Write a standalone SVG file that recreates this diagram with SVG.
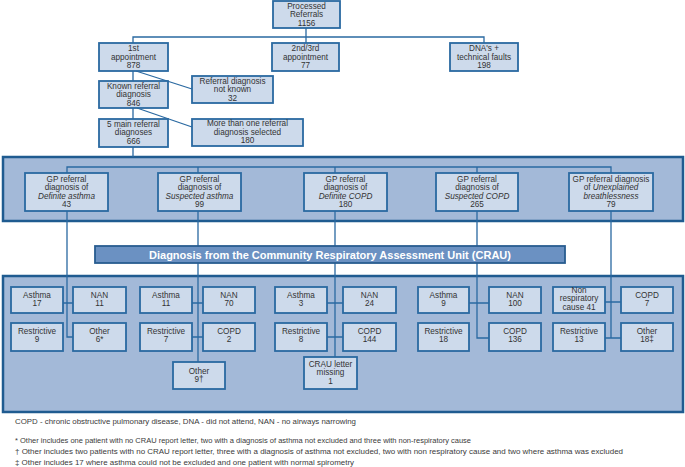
<svg xmlns="http://www.w3.org/2000/svg" width="685" height="467" viewBox="0 0 685 467">
<style>
.bg{fill:#ffffff}
.panel{fill:#a3b9d8;stroke:#1f5b90;stroke-width:2.5}
.box{fill:#cddaeb;stroke:#2a69a1;stroke-width:1.8}
.banner{fill:#6b91c2;stroke:#285c90;stroke-width:1.8}
.ln{fill:none;stroke:#2a69a1;stroke-width:1.3}
text{font-family:"Liberation Sans",Arial,sans-serif;font-size:8.2px;fill:#333333;text-anchor:middle}
.it{font-style:italic}
.bt{font-weight:bold;font-size:10.8px;fill:#ffffff}
.ft{font-size:7.8px;text-anchor:start;fill:#3a3a3a}
</style>
<rect class="bg" x="0" y="0" width="685" height="467"/>
<rect class="panel" x="3" y="157" width="680" height="64"/>
<rect class="panel" x="3" y="276" width="680" height="136"/>
<g id="connectors">
<path class="ln" d="M306 28V43M133 43V37H484V43"/>
<path class="ln" d="M133 71V81M133 108V119M133 147V157"/>
<path class="ln" d="M136 71L192 89M137 108L192 127"/>
<path class="ln" d="M67 173V167H611V173M198 167V173M335 167V173M477 167V173"/>
<path class="ln" d="M67 211V337H73M63 303H73"/>
<path class="ln" d="M198 211V362M192 303H203M192 337H203"/>
<path class="ln" d="M335 211V357M327 303H343M327 337H343"/>
<path class="ln" d="M477 211V338H489M469 303H489"/>
<path class="ln" d="M611 211V338M605 302H621M605 338H621"/>
</g>
<g id="processed"><rect class="box" x="273" y="1" width="67" height="27"/><text x="306.5" y="9">Processed</text><text x="306.5" y="17.3">Referrals</text><text x="306.5" y="25.5">1156</text></g>
<g id="first"><rect class="box" x="99" y="43" width="69" height="28"/><text x="133.5" y="51.3">1st</text><text x="133.5" y="59.7">appointment</text><text x="133.5" y="68">878</text></g>
<g id="second"><rect class="box" x="272" y="43" width="67" height="28"/><text x="305.5" y="51.3">2nd/3rd</text><text x="305.5" y="59.7">appointment</text><text x="305.5" y="68">77</text></g>
<g id="dna"><rect class="box" x="450" y="43" width="68" height="28"/><text x="484" y="51.3">DNA's +</text><text x="484" y="59.7">technical faults</text><text x="484" y="68">198</text></g>
<g id="notknown"><rect class="box" x="192" y="76" width="81" height="27"/><text x="232.5" y="83.7">Referral diagnosis</text><text x="232.5" y="92">not known</text><text x="232.5" y="100.5">32</text></g>
<g id="known"><rect class="box" x="99" y="81" width="69" height="27"/><text x="133.5" y="88.7">Known referral</text><text x="133.5" y="97.2">diagnosis</text><text x="133.5" y="105.8">846</text></g>
<g id="main5"><rect class="box" x="99" y="119" width="69" height="28"/><text x="133.5" y="127">5 main referral</text><text x="133.5" y="135.4">diagnoses</text><text x="133.5" y="144">666</text></g>
<g id="morethan"><rect class="box" x="192" y="119" width="111" height="27"/><text x="247.5" y="125.8">More than one referral</text><text x="247.5" y="134.5">diagnosis selected</text><text x="247.5" y="143">180</text></g>
<g id="gp1"><rect class="box" x="25" y="173" width="83" height="38"/><text x="66.5" y="182">GP referral</text><text x="66.5" y="190.3">diagnosis of</text><text x="66.5" y="198.7" class="it">Definite asthma</text><text x="66.5" y="207">43</text></g>
<g id="gp2"><rect class="box" x="158" y="173" width="83" height="38"/><text x="199.5" y="182">GP referral</text><text x="199.5" y="190.3">diagnosis of</text><text x="199.5" y="198.7" class="it">Suspected asthma</text><text x="199.5" y="207">99</text></g>
<g id="gp3"><rect class="box" x="304" y="173" width="83" height="38"/><text x="345.5" y="182">GP referral</text><text x="345.5" y="190.3">diagnosis of</text><text x="345.5" y="198.7" class="it">Definite COPD</text><text x="345.5" y="207">180</text></g>
<g id="gp4"><rect class="box" x="436" y="173" width="82" height="38"/><text x="477" y="182">GP referral</text><text x="477" y="190.3">diagnosis of</text><text x="477" y="198.7" class="it">Suspected COPD</text><text x="477" y="207">265</text></g>
<g id="gp5"><rect class="box" x="569" y="173" width="84" height="38"/><text x="611" y="182">GP referral diagnosis</text><text x="611" y="190.3">of <tspan class="it">Unexplained</tspan></text><text x="611" y="198.7" class="it">breathlessness</text><text x="611" y="207">79</text></g>
<g id="crau"><rect class="banner" x="95" y="246" width="470" height="17"/><text class="bt" x="330" y="258.5" textLength="362" lengthAdjust="spacingAndGlyphs">Diagnosis from the Community Respiratory Assessment Unit (CRAU)</text></g>
<g id="c1a"><rect class="box" x="11" y="287" width="52" height="26"/><text x="37" y="298">Asthma</text><text x="37" y="306.3">17</text></g>
<g id="c1b"><rect class="box" x="73" y="287" width="53" height="26"/><text x="99.5" y="298">NAN</text><text x="99.5" y="306.3">11</text></g>
<g id="c1c"><rect class="box" x="11" y="323" width="52" height="28"/><text x="37" y="334">Restrictive</text><text x="37" y="342.3">9</text></g>
<g id="c1d"><rect class="box" x="73" y="323" width="53" height="28"/><text x="99.5" y="334">Other</text><text x="99.5" y="342.3">6*</text></g>
<g id="c2a"><rect class="box" x="140" y="287" width="52" height="26"/><text x="166" y="298">Asthma</text><text x="166" y="306.3">11</text></g>
<g id="c2b"><rect class="box" x="203" y="287" width="52" height="26"/><text x="229" y="298">NAN</text><text x="229" y="306.3">70</text></g>
<g id="c2c"><rect class="box" x="140" y="323" width="52" height="28"/><text x="166" y="334">Restrictive</text><text x="166" y="342.3">7</text></g>
<g id="c2d"><rect class="box" x="203" y="323" width="52" height="28"/><text x="229" y="334">COPD</text><text x="229" y="342.3">2</text></g>
<g id="c2e"><rect class="box" x="173" y="362" width="52" height="27"/><text x="199" y="373.7">Other</text><text x="199" y="382">9†</text></g>
<g id="c3a"><rect class="box" x="275" y="287" width="52" height="26"/><text x="301" y="298">Asthma</text><text x="301" y="306.3">3</text></g>
<g id="c3b"><rect class="box" x="343" y="287" width="53" height="26"/><text x="369.5" y="298">NAN</text><text x="369.5" y="306.3">24</text></g>
<g id="c3c"><rect class="box" x="275" y="323" width="52" height="28"/><text x="301" y="334">Restrictive</text><text x="301" y="342.3">8</text></g>
<g id="c3d"><rect class="box" x="343" y="323" width="53" height="28"/><text x="369.5" y="334">COPD</text><text x="369.5" y="342.3">144</text></g>
<g id="c3e"><rect class="box" x="304" y="357" width="53" height="32"/><text x="330.5" y="367">CRAU letter</text><text x="330.5" y="375.3">missing</text><text x="330.5" y="383.7">1</text></g>
<g id="c4a"><rect class="box" x="418" y="287" width="51" height="26"/><text x="443.5" y="298">Asthma</text><text x="443.5" y="306.3">9</text></g>
<g id="c4b"><rect class="box" x="489" y="287" width="52" height="26"/><text x="515" y="298">NAN</text><text x="515" y="306.3">100</text></g>
<g id="c4c"><rect class="box" x="418" y="323" width="51" height="28"/><text x="443.5" y="334">Restrictive</text><text x="443.5" y="342.3">18</text></g>
<g id="c4d"><rect class="box" x="489" y="323" width="52" height="28"/><text x="515" y="334">COPD</text><text x="515" y="342.3">136</text></g>
<g id="c5a"><rect class="box" x="553" y="287" width="52" height="26"/><text x="579" y="293">Non</text><text x="579" y="301.3">respiratory</text><text x="579" y="309.7">cause 41</text></g>
<g id="c5b"><rect class="box" x="621" y="287" width="52" height="26"/><text x="647" y="298">COPD</text><text x="647" y="306.3">7</text></g>
<g id="c5c"><rect class="box" x="553" y="323" width="52" height="28"/><text x="579" y="334">Restrictive</text><text x="579" y="342.3">13</text></g>
<g id="c5d"><rect class="box" x="621" y="323" width="52" height="28"/><text x="647" y="334">Other</text><text x="647" y="342.3">18‡</text></g>
<g id="footer">
<text class="ft" x="15" y="424" textLength="341" lengthAdjust="spacingAndGlyphs">COPD - chronic obstructive pulmonary disease, DNA - did not attend, NAN - no airways narrowing</text>
<text class="ft" x="15" y="443" textLength="456" lengthAdjust="spacingAndGlyphs">* Other includes one patient with no CRAU report letter, two with a diagnosis of asthma not excluded and three with non-respiratory cause</text>
<text class="ft" x="15" y="454" textLength="608" lengthAdjust="spacingAndGlyphs">† Other includes two patients with no CRAU report letter, three with a diagnosis of asthma not excluded, two with non respiratory cause and two where asthma was excluded</text>
<text class="ft" x="15" y="465" textLength="339" lengthAdjust="spacingAndGlyphs">‡ Other includes 17 where asthma could not be excluded and one patient with normal spirometry</text>
</g>
</svg>
